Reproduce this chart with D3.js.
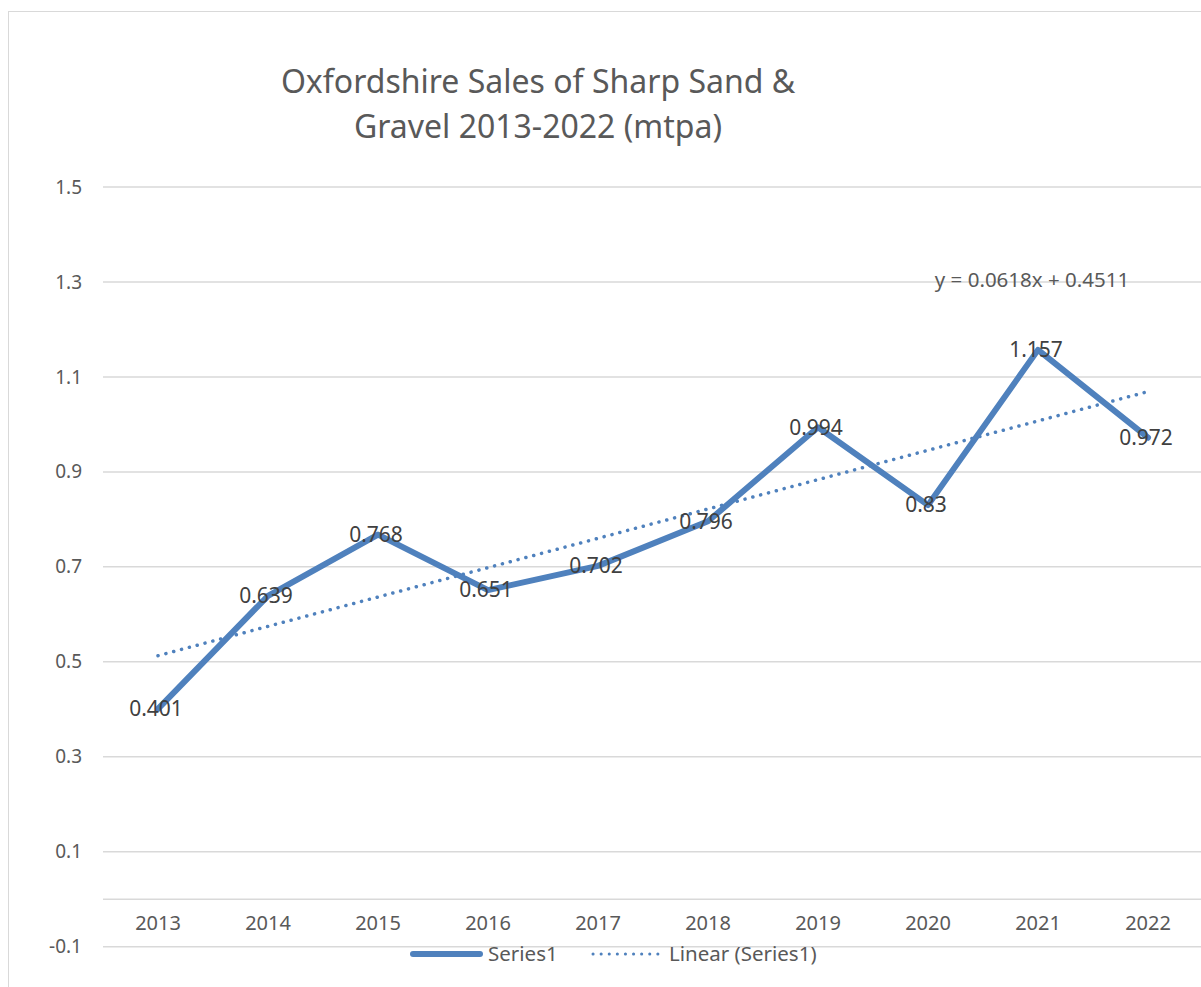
<!DOCTYPE html>
<html>
<head>
<meta charset="utf-8">
<script src="https://cdn.jsdelivr.net/npm/d3@7"></script>
<style>
  body { margin: 0; background: #fff; }
  text { font-family: "Noto Sans", "Open Sans", sans-serif; }
</style>
</head>
<body>
<div id="chart"></div>
<script>
const years = ["2013", "2014", "2015", "2016", "2017", "2018", "2019", "2020", "2021", "2022"];
const sales = [0.401, 0.639, 0.768, 0.651, 0.702, 0.796, 0.994, 0.83, 1.157, 0.972];
const yTicks = [-0.1, 0.1, 0.3, 0.5, 0.7, 0.9, 1.1, 1.3, 1.5];
const trendSlope = 0.0618, trendIntercept = 0.4511;
const titleLines = ["Oxfordshire Sales of Sharp Sand &", "Gravel 2013-2022 (mtpa)"];

const W = 1201, H = 987;
const blue = "#4f81bd";

const svg = d3.select("#chart").append("svg")
    .attr("width", W)
    .attr("height", H);

// chart area border
svg.append("rect")
    .attr("x", 8.5).attr("y", 11.5)
    .attr("width", W + 10).attr("height", H + 10)
    .attr("fill", "#fff")
    .attr("stroke", "#d9d9d9");

const x = d3.scaleBand()
    .domain(years)
    .range([103, 1203]);

const y = d3.scaleLinear()
    .domain([-0.1, 1.5])
    .range([946.7, 187]);

// gridlines
svg.append("g")
    .selectAll("line")
    .data(yTicks)
    .enter()
    .append("line")
    .attr("x1", 103).attr("x2", W)
    .attr("y1", d => y(d)).attr("y2", d => y(d))
    .attr("stroke", "#d9d9d9")
    .attr("stroke-width", 1.5);

// category axis line at zero
svg.append("line")
    .attr("x1", 103).attr("x2", W)
    .attr("y1", y(0)).attr("y2", y(0))
    .attr("stroke", "#d9d9d9")
    .attr("stroke-width", 1.5);

// y tick labels
const yAxis = svg.append("g")
    .attr("transform", "translate(90,0)")
    .call(d3.axisLeft(y).tickValues(yTicks).tickSize(0).tickPadding(8)
        .tickFormat(d => d3.format(".1f")(d).replace("\u2212", "-")));
yAxis.select(".domain").remove();
yAxis.selectAll("text")
    .attr("font-family", "Noto Sans")
    .attr("font-size", 19)
    .attr("fill", "#595959");

// x tick labels
const xAxis = svg.append("g")
    .attr("transform", "translate(0," + (y(0) + 17) + ")")
    .call(d3.axisBottom(x).tickSize(0).tickPadding(0));
xAxis.select(".domain").remove();
xAxis.selectAll("text")
    .attr("font-family", "Noto Sans")
    .attr("font-size", 20)
    .attr("fill", "#595959");

const cx = d => x(d) + x.bandwidth() / 2;

// trendline
const trend = [years[0], years[years.length - 1]].map(yr => {
    const i = years.indexOf(yr) + 1;
    return { year: yr, v: trendSlope * i + trendIntercept };
});
svg.append("path")
    .datum(trend)
    .attr("fill", "none")
    .attr("stroke", blue)
    .attr("stroke-width", 3.5)
    .attr("stroke-linecap", "round")
    .attr("stroke-dasharray", "0.1,8")
    .attr("d", d3.line().x(d => cx(d.year)).y(d => y(d.v)));

// series line
const pts = years.map((yr, i) => ({ year: yr, v: sales[i] }));
svg.append("path")
    .datum(pts)
    .attr("fill", "none")
    .attr("stroke", blue)
    .attr("stroke-width", 6)
    .attr("stroke-linejoin", "round")
    .attr("stroke-linecap", "round")
    .attr("d", d3.line().x(d => cx(d.year)).y(d => y(d.v)));

// data labels
svg.append("g")
    .selectAll("text")
    .data(pts)
    .enter()
    .append("text")
    .attr("x", d => cx(d.year) - 2)
    .attr("y", d => y(d.v))
    .attr("dy", "0.35em")
    .attr("text-anchor", "middle")
    .attr("font-size", 21)
    .attr("fill", "#404040")
    .text(d => d.v);

// trend equation
svg.append("text")
    .attr("x", 1032)
    .attr("y", 287)
    .attr("text-anchor", "middle")
    .attr("font-size", 20.5)
    .attr("fill", "#595959")
    .text("y = " + trendSlope + "x + " + trendIntercept);

// title
svg.append("g")
    .selectAll("text")
    .data(titleLines)
    .enter()
    .append("text")
    .attr("x", 538)
    .attr("y", (d, i) => 93 + i * 45)
    .attr("text-anchor", "middle")
    .attr("font-size", 32)
    .attr("fill", "#595959")
    .text(d => d);

// legend
const legend = svg.append("g");
legend.append("line")
    .attr("x1", 413).attr("x2", 480)
    .attr("y1", 954).attr("y2", 954)
    .attr("stroke", blue)
    .attr("stroke-width", 6)
    .attr("stroke-linecap", "round");
legend.append("text")
    .attr("x", 488).attr("y", 961)
    .attr("font-size", 20.5)
    .attr("fill", "#595959")
    .text("Series1");
legend.append("line")
    .attr("x1", 593).attr("x2", 661)
    .attr("y1", 954).attr("y2", 954)
    .attr("stroke", blue)
    .attr("stroke-width", 3)
    .attr("stroke-linecap", "round")
    .attr("stroke-dasharray", "0.1,8");
legend.append("text")
    .attr("x", 669).attr("y", 961)
    .attr("font-size", 20.5)
    .attr("fill", "#595959")
    .text("Linear (Series1)");
</script>
</body>
</html>
